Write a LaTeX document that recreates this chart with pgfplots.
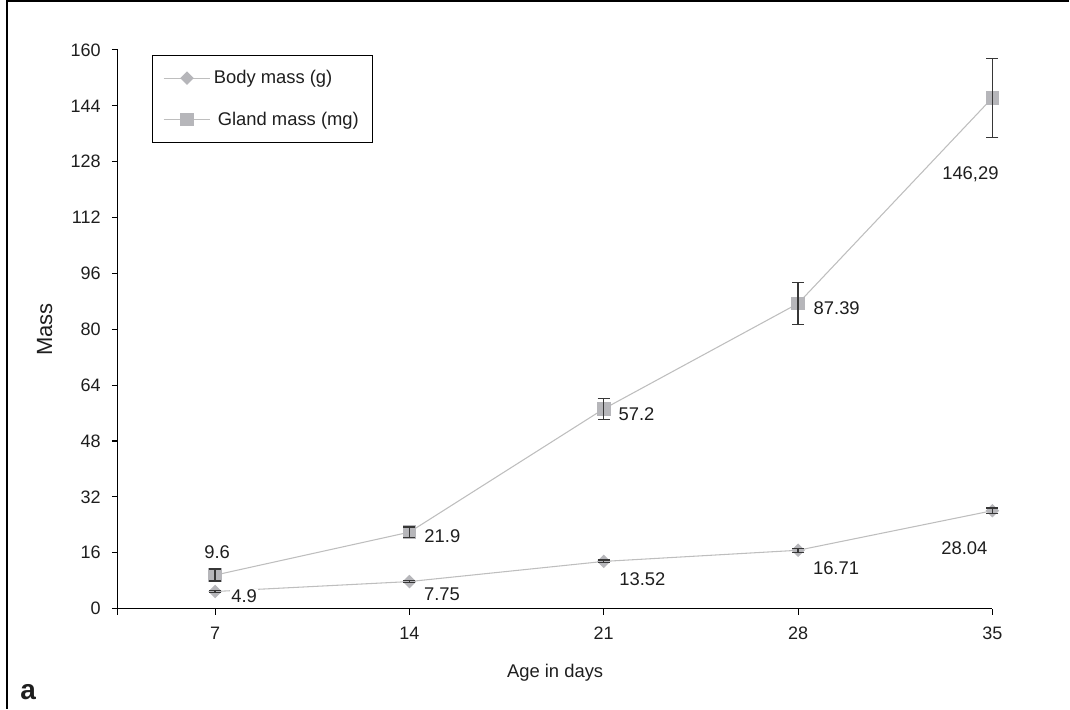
\documentclass[border=0pt]{standalone}
\usepackage{pgfplots}
\pgfplotsset{compat=1.18}
\usepackage{fontspec}
\setmainfont{Liberation Sans}
\definecolor{lineg}{RGB}{190,190,190}
\definecolor{markg}{RGB}{182,182,186}
\definecolor{errg}{RGB}{55,55,55}
\definecolor{txt}{RGB}{30,30,30}
\newcommand{\fs}{\fontsize{13.8}{16}\selectfont}
\begin{document}
\begin{tikzpicture}[x=1pt,y=1pt]
\begin{axis}[
  at={(0,0)}, anchor=south west,
  scale only axis, width=656.25pt, height=419.25pt,
  xmin=3.5, xmax=35, ymin=0, ymax=160,
  axis lines=left, axis line style={-, black, line width=0.8pt},
  xtick={7,14,21,28,35},
  extra x ticks={3.5}, extra x tick labels={},
  ytick={0,16,...,160},
  major tick length=4.5pt, tick align=outside,
  tick style={black, line width=0.8pt},
  every tick label/.append style={font=\fontsize{13.5}{16}\selectfont, text=txt},
  /pgf/number format/assume math mode=true,
  xticklabel style={yshift=-6pt},
  yticklabel style={xshift=-5pt},
  xlabel={Age in days}, ylabel={Mass},
  xlabel style={font=\fs, text=txt, at={(axis description cs:0.5,0)}, anchor=center, yshift=-48pt},
  ylabel style={font=\fontsize{16.5}{19}\selectfont, text=txt, at={(axis description cs:0,0.5)}, anchor=center, yshift=55pt},
  clip=false, clip marker paths=true,
  legend style={at={(axis description cs:0.0389,0.991)}, anchor=north west,
    draw=black, line width=0.8pt, font=\fs, text=txt,
    inner xsep=8pt, inner ysep=9pt, row sep=15pt, cells={anchor=west},
    nodes={inner sep=2.25pt}},
  legend image code/.code={%
    \draw[#1, mark repeat=2, mark phase=2] plot coordinates {(0pt,0pt) (17.5pt,0pt) (35pt,0pt)};},
]
\addplot[color=lineg, line width=0.8pt, mark=square*, mark size=3.2pt,
  mark options={fill=markg, draw=markg, rotate=45}]
  coordinates {(7,4.9) (14,7.75) (21,13.52) (28,16.71) (35,28.04)};
\addlegendentry{Body mass (g)}
\addplot[color=lineg, line width=0.8pt, mark=square*, mark size=4.75pt,
  mark options={fill=markg, draw=markg}]
  coordinates {(7,9.6) (14,21.9) (21,57.2) (28,87.39) (35,146.29)};
\addlegendentry{\hspace{3pt}Gland mass (mg)}
\addplot[forget plot, draw=none, mark=none,
  error bars/.cd, y dir=both, y explicit,
  error bar style={draw=errg, line width=1pt},
  error mark options={rotate=90, mark size=4.5pt, draw=errg, line width=1pt}]
  coordinates {
  (7,4.9) +- (0,0.3)
  (14,7.75) +- (0,0.3)
  (21,13.52) +- (0,0.4)
  (28,16.71) +- (0,0.6)
  (35,28.04) +- (0,0.8)
};
\addplot[forget plot, draw=none, mark=none,
  error bars/.cd, y dir=both, y explicit,
  error bar style={draw=errg, line width=1pt},
  error mark options={rotate=90, mark size=4.5pt, draw=errg, line width=1pt}]
  coordinates {
  (7,9.6) +- (0,1.7)
  (14,21.9) +- (0,1.5)
  (21,57.2) +- (0,3.0)
  (28,87.39) +- (0,6.0)
  (35,146.29) +- (0,11.3)
};
\begin{scope}[every node/.style={font=\fs, text=txt, inner sep=1pt}]
\node at (axis cs:7,9.6) [xshift=1.5pt, yshift=16.9pt] {9.6};
\node[fill=white] at (axis cs:7,4.9) [xshift=21.75pt, yshift=-3.75pt] {4.9};
\node at (axis cs:14,21.9) [xshift=24.75pt, yshift=-3pt] {21.9};
\node at (axis cs:14,7.75) [xshift=24.4pt, yshift=-9.75pt] {7.75};
\node at (axis cs:21,57.2) [xshift=24.6pt, yshift=-3.75pt] {57.2};
\node at (axis cs:21,13.52) [xshift=29pt, yshift=-13pt] {13.52};
\node at (axis cs:28,87.39) [xshift=29pt, yshift=-3.75pt] {87.39};
\node at (axis cs:28,16.71) [xshift=28.5pt, yshift=-13.5pt] {16.71};
\node at (axis cs:35,146.29) [xshift=-16.5pt, yshift=-57pt] {146,29};
\node at (axis cs:35,28.04) [xshift=-21pt, yshift=-27.75pt] {28.04};
\end{scope}
\end{axis}
\draw[black, line width=1pt] (-83.25pt,-75pt) -- (-83.25pt,456pt) -- (714pt,456pt);
\node[font=\bfseries\fontsize{21}{24}\selectfont, anchor=base west, text=txt, inner sep=0pt] at (-73.5pt,-68.25pt) {a};
\useasboundingbox (-88.5pt,-75pt) rectangle (714pt,456.75pt);
\end{tikzpicture}
\end{document}
